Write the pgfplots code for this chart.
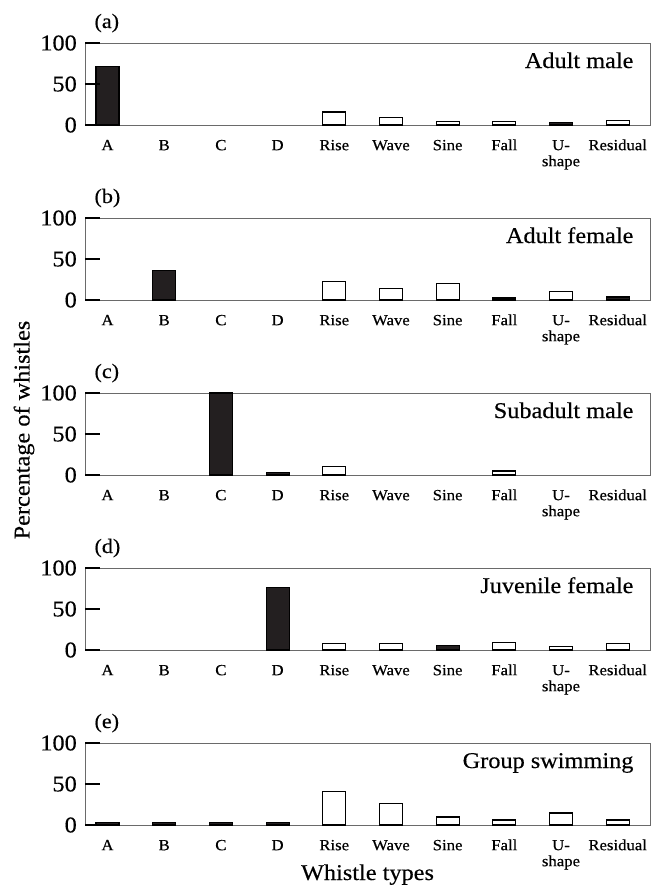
\documentclass[border=0pt]{standalone}
\usepackage{fontspec}
\setmainfont{Liberation Serif}[FakeStretch=1.08, FakeBold=0.35]
\usepackage{pgfplots}
\pgfplotsset{compat=1.18}
\definecolor{barblack}{HTML}{231F20}
\definecolor{boxgray}{HTML}{6A6A6A}
\tikzset{
  namestyle/.style={anchor=base east, xshift=-13pt, yshift=-25pt, font=\fontsize{22.5}{27}\selectfont},
  letterstyle/.style={anchor=base west, xshift=6pt, yshift=15pt, font=\fontsize{20.5}{24}\selectfont},
}
\pgfplotsset{
  panel/.style={
    scale only axis, width=565pt, height=82pt,
    anchor=south west, clip=false,
    xmin=-0.397, xmax=9.57, ymin=0, ymax=100,
    ybar, bar width=23pt, bar shift=0pt,
    ytick={0,50,100}, xtick={0,...,9},
    xticklabels={\strut A,\strut B,\strut C,\strut D,\strut Rise,\strut Wave,\strut Sine,\strut Fall,{\strut U-\\shape},\strut Residual},
    xticklabel style={anchor=north, align=center, inner sep=0pt, yshift=-13.8pt, font=\fontsize{15.5}{16}\selectfont},
    yticklabel style={anchor=east, inner sep=0pt, xshift=-8pt, font=\fontsize{22.5}{26}\selectfont},
    /pgf/number format/assume math mode=true,
    tick align=inside, ytick pos=left,
    major tick length=15pt,
    major x tick style={draw=none},
    major y tick style={draw=black, line width=1.3pt},
    axis line style={boxgray, line width=1pt},
    after end axis/.code={
      \draw[black, line width=1.3pt] (rel axis cs:0,0) -- ++(15pt,0pt);
      \draw[black, line width=1.3pt] (rel axis cs:0,0.5) -- ++(15pt,0pt);
      \draw[black, line width=1.3pt] (rel axis cs:0,1) -- ++(15pt,0pt);
    },
  },
  blackbar/.style={fill=barblack, draw=black, line width=1.1pt},
  whitebar/.style={fill=white, draw=black, line width=1.1pt},
}
\begin{document}
\begin{tikzpicture}
\path[use as bounding box] (0pt,0pt) rectangle (651pt,-889pt);
% (a)
\begin{axis}[panel, at={(85pt,-125pt)}]
\addplot[blackbar] coordinates {(0,71) (8,2.8)};
\addplot[whitebar] coordinates {(4,15.8) (5,9.3) (6,4.5) (7,4.5) (9,5.7)};
\node[namestyle] at (rel axis cs:1,1) {Adult male};
\node[letterstyle] at (rel axis cs:0,1) {(a)};
\end{axis}
% (b)
\begin{axis}[panel, at={(85pt,-300pt)}]
\addplot[blackbar] coordinates {(1,35.5) (7,2.5) (9,3.7)};
\addplot[whitebar] coordinates {(4,23) (5,13.6) (6,20.2) (8,10.7)};
\node[namestyle] at (rel axis cs:1,1) {Adult female};
\node[letterstyle] at (rel axis cs:0,1) {(b)};
\end{axis}
% (c)
\begin{axis}[panel, at={(85pt,-475pt)}]
\addplot[blackbar] coordinates {(2,100) (3,3.2)};
\addplot[whitebar] coordinates {(4,10.5) (7,4.9)};
\node[namestyle] at (rel axis cs:1,1) {Subadult male};
\node[letterstyle] at (rel axis cs:0,1) {(c)};
\end{axis}
% (d)
\begin{axis}[panel, at={(85pt,-650pt)}]
\addplot[blackbar] coordinates {(3,75.9) (6,5.7)};
\addplot[whitebar] coordinates {(4,8.2) (5,8.2) (7,9.4) (8,4.5) (9,8.2)};
\node[namestyle] at (rel axis cs:1,1) {Juvenile female};
\node[letterstyle] at (rel axis cs:0,1) {(d)};
\end{axis}
% (e)
\begin{axis}[panel, at={(85pt,-825pt)}]
\addplot[blackbar] coordinates {(0,3.3) (1,3.3) (2,3.3) (3,3.3)};
\addplot[whitebar] coordinates {(4,41.2) (5,26.5) (6,9.8) (7,6.1) (8,14.7) (9,6.1)};
\node[namestyle] at (rel axis cs:1,1) {Group swimming};
\node[letterstyle] at (rel axis cs:0,1) {(e)};
\end{axis}
\node[rotate=90, font=\fontsize{22.5}{27}\selectfont] at (24pt,-430pt) {Percentage of whistles};
\node[anchor=base, font=\fontsize{22.5}{27}\selectfont] at (367.5pt,-880pt) {Whistle types};
\end{tikzpicture}
\end{document}
